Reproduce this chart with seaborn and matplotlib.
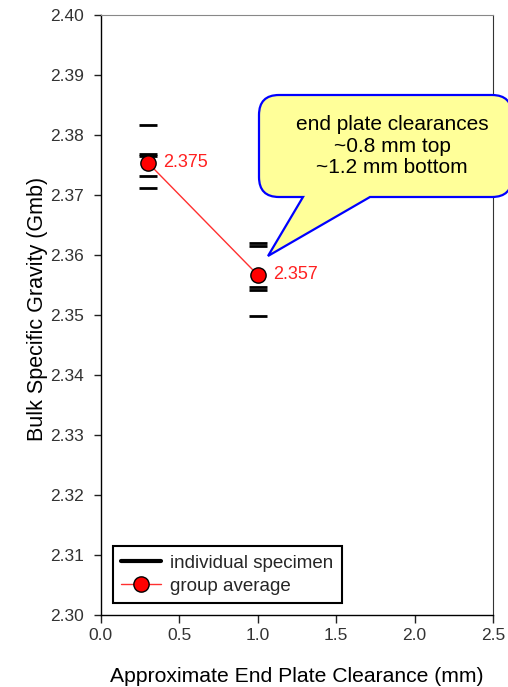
import numpy as np
import pandas as pd
import matplotlib
matplotlib.use("Agg")
import matplotlib.pyplot as plt
import seaborn as sns
from matplotlib.path import Path
from matplotlib.patches import PathPatch
from matplotlib.lines import Line2D

# ---- data ----
specimen_clearance = [0.3, 0.3, 0.3, 0.3, 0.3, 1.0, 1.0, 1.0, 1.0, 1.0]
specimen_gmb = [2.3816, 2.3768, 2.3765, 2.3732, 2.3712,
                2.3620, 2.3615, 2.3546, 2.3541, 2.3499]
avg_clearance = [0.3, 1.0]
avg_gmb = [2.3754, 2.3567]
avg_labels = ["2.375", "2.357"]
x_ticks = [0.0, 0.5, 1.0, 1.5, 2.0, 2.5]
y_ticks = [2.30, 2.31, 2.32, 2.33, 2.34, 2.35, 2.36, 2.37, 2.38, 2.39, 2.40]
callout_text = "end plate clearances\n~0.8 mm top\n~1.2 mm bottom"
legend_labels = ["individual specimen", "group average"]

sns.set_style("ticks")
plt.rcParams["font.family"] = ["Liberation Sans", "DejaVu Sans"]

W, H = 508, 687
fig = plt.figure(figsize=(W / 100, H / 100), dpi=100)
ax = fig.add_axes([100.7 / W, 1 - 615 / H, (493 - 100.7) / W, (615 - 15) / H])

spec_df = pd.DataFrame({"clearance": specimen_clearance, "gmb": specimen_gmb})
avg_df = pd.DataFrame({"clearance": avg_clearance, "gmb": avg_gmb})

sns.scatterplot(data=spec_df, x="clearance", y="gmb", marker="_", s=150,
                color="black", linewidth=2.0, ax=ax, legend=False, zorder=3)
sns.lineplot(data=avg_df, x="clearance", y="gmb", color="#ff3030", lw=1,
             marker="o", markersize=11, markerfacecolor="red",
             markeredgecolor="black", markeredgewidth=1, ax=ax, zorder=4)

for xv, yv, lab in zip(avg_clearance, avg_gmb, avg_labels):
    ax.annotate(lab, (xv, yv), xytext=(11, 0), textcoords="offset points",
                ha="left", va="center", color="#ff2020", fontsize=13)

ax.set_xlim(0, 2.5)
ax.set_ylim(2.30, 2.40)
ax.set_xticks(x_ticks)
ax.set_xticklabels([f"{v:.1f}" for v in x_ticks])
ax.set_yticks(y_ticks)
ax.set_yticklabels([f"{v:.2f}" for v in y_ticks])
ax.tick_params(axis="both", direction="out", length=5, width=1,
               labelsize=12.5, labelcolor="#333333", colors="#222222")
ax.tick_params(axis="y", pad=7)
ax.tick_params(axis="x", pad=3, length=6)

ax.set_xlabel("Approximate End Plate Clearance (mm)", fontsize=15.2, color="black")
ax.set_ylabel("Bulk Specific Gravity (Gmb)", fontsize=15.5, color="black")
ax.xaxis.set_label_coords(0.5, -0.086)
ax.yaxis.set_label_coords(-0.135, 0.51)

for side in ["left", "bottom"]:
    ax.spines[side].set_color("black")
    ax.spines[side].set_linewidth(1)
ax.spines["top"].set_color("#888888")
ax.spines["right"].set_color("#333333")

handles = [
    Line2D([], [], color="black", lw=3),
    Line2D([], [], color="#ff3030", lw=1, marker="o", markersize=11,
           markerfacecolor="red", markeredgecolor="black", markeredgewidth=1),
]
leg = ax.legend(handles, legend_labels, loc="lower left",
                bbox_to_anchor=((113 - 100.7) / 392.3, (615 - 603) / 600),
                borderaxespad=0, fontsize=13.5, frameon=True, fancybox=False,
                handlelength=2.1, handletextpad=0.5, borderpad=0.45,
                labelspacing=0.3)
leg.get_frame().set_edgecolor("black")
leg.get_frame().set_linewidth(1.5)
leg.get_frame().set_alpha(1)

# ---- callout balloon (pixel coords, y from top) ----
L, R, T, B, r = 259, 512, 95, 197, 20
tip = (268, 256)
base_l, base_r = 303, 370
pts = [
    ((L, T + r), Path.MOVETO),
    ((L, T), Path.CURVE3), ((L + r, T), Path.CURVE3),
    ((R - r, T), Path.LINETO),
    ((R, T), Path.CURVE3), ((R, T + r), Path.CURVE3),
    ((R, B - r), Path.LINETO),
    ((R, B), Path.CURVE3), ((R - r, B), Path.CURVE3),
    ((base_r, B), Path.LINETO),
    (tip, Path.LINETO),
    ((base_l, B), Path.LINETO),
    ((L + r, B), Path.LINETO),
    ((L, B), Path.CURVE3), ((L, B - r), Path.CURVE3),
    ((L, T + r), Path.CLOSEPOLY),
]
verts = [(x / W, 1 - y / H) for (x, y), _ in pts]
codes = [c for _, c in pts]
balloon = PathPatch(Path(verts, codes), facecolor="#ffff99", edgecolor="#0000ff",
                    lw=1.6, transform=fig.transFigure, zorder=10, clip_on=False)
fig.add_artist(balloon)
fig.text(392 / W, 1 - 146 / H, callout_text, ha="center", va="center",
         fontsize=15, linespacing=1.15, color="black", zorder=11)

fig.savefig("out.png", dpi=100)
